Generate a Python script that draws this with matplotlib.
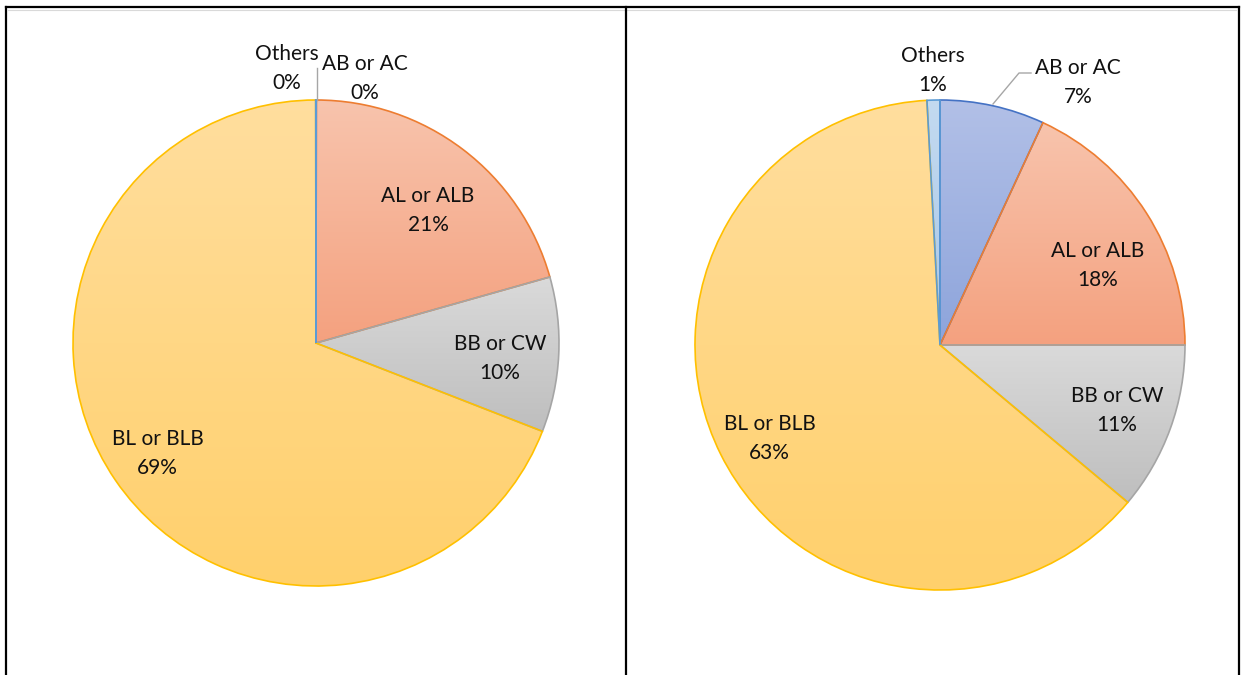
import numpy as np
import matplotlib
matplotlib.use("Agg")
import matplotlib.pyplot as plt
from matplotlib.colors import LinearSegmentedColormap

plt.rcParams['font.family'] = ['Lato', 'DejaVu Sans']

# ---- data ----
categories = ["AB or AC", "AL or ALB", "BB or CW", "BL or BLB", "Others"]
left_values = [0.02, 20.6, 10.3, 69.06, 0.02]
right_values = [6.9, 18.1, 11.1, 63.05, 0.85]

# ---- styles ----
edge_colors = ["#4472C4", "#ED7D31", "#A5A5A5", "#FFC000", "#5B9BD5"]
grad_top = ["#B2C0E7", "#F8C4AD", "#DADADA", "#FFDE9E", "#C3DAF0"]
grad_bot = ["#8DA4DB", "#F4A17F", "#BEBEBE", "#FFD06C", "#A9C7E8"]

W, H = 1243, 675
fig = plt.figure(figsize=(W / 100, H / 100), dpi=100)
ax = fig.add_axes([0, 0, 1, 1])
ax.set_xlim(0, W)
ax.set_ylim(0, H)
ax.axis('off')


def Y(py):
    return H - py


def draw_pie(values, cx, cy, r):
    wedges, _ = ax.pie(values, startangle=90, counterclock=False,
                       center=(cx, Y(cy)), radius=r, normalize=True,
                       wedgeprops=dict(linewidth=1.2, facecolor='none'))
    for i, w in enumerate(wedges):
        w.set_edgecolor(edge_colors[i])
        w.set_zorder(3)
        ext = w.get_path().get_extents()
        x0, y0, x1, y1 = ext.x0, ext.y0, ext.x1, ext.y1
        if x1 - x0 < 1:
            x0, x1 = x0 - 1, x1 + 1
        cmap = LinearSegmentedColormap.from_list("g%d" % i, [grad_top[i], grad_bot[i]])
        grad = np.linspace(0, 1, 256).reshape(-1, 1)
        im = ax.imshow(grad, extent=[x0, x1, y0, y1], origin='upper',
                       cmap=cmap, aspect='auto', zorder=2, interpolation='bilinear')
        im.set_clip_path(w)
    return wedges


draw_pie(left_values, 316, 343, 243)
draw_pie(right_values, 940, 345, 245)
ax.set_xlim(0, W)
ax.set_ylim(0, H)
ax.set_aspect('auto')

# ---- labels (name baseline positions in pixels) ----
left_label_pos = [(364.5, 70), (428, 202), (500, 350), (157.5, 445), (287, 60)]
right_label_pos = [(1078, 74), (1098, 257), (1117, 402), (769.5, 430), (933, 62)]


def labels(values, positions):
    for name, v, (x, yb) in zip(categories, values, positions):
        ax.text(x, Y(yb), name, ha='center', va='baseline', fontsize=15, color='#111111', zorder=5)
        ax.text(x, Y(yb + 29), "%d%%" % round(v), ha='center', va='baseline', fontsize=15,
                color='#111111', zorder=5)


labels(left_values, left_label_pos)
labels(right_values, right_label_pos)

# leader lines
lc = '#A6A6A6'
ax.plot([317, 317], [Y(68), Y(100)], color=lc, lw=1.0, zorder=4)
ax.plot([993, 1019, 1031], [Y(104), Y(73), Y(73)], color=lc, lw=1.0, zorder=4)

# ---- table borders ----
ax.plot([8, 1236], [Y(9.5), Y(9.5)], color='#D9D9D9', lw=0.8, zorder=6)
bk = dict(color='black', lw=1.6, zorder=7, solid_capstyle='projecting')
ax.plot([6, 1239], [Y(7), Y(7)], **bk)
ax.plot([6, 6], [Y(7), Y(676)], **bk)
ax.plot([626, 626], [Y(7), Y(676)], **bk)
ax.plot([1239, 1239], [Y(7), Y(676)], **bk)

fig.savefig("out.png", dpi=100)
